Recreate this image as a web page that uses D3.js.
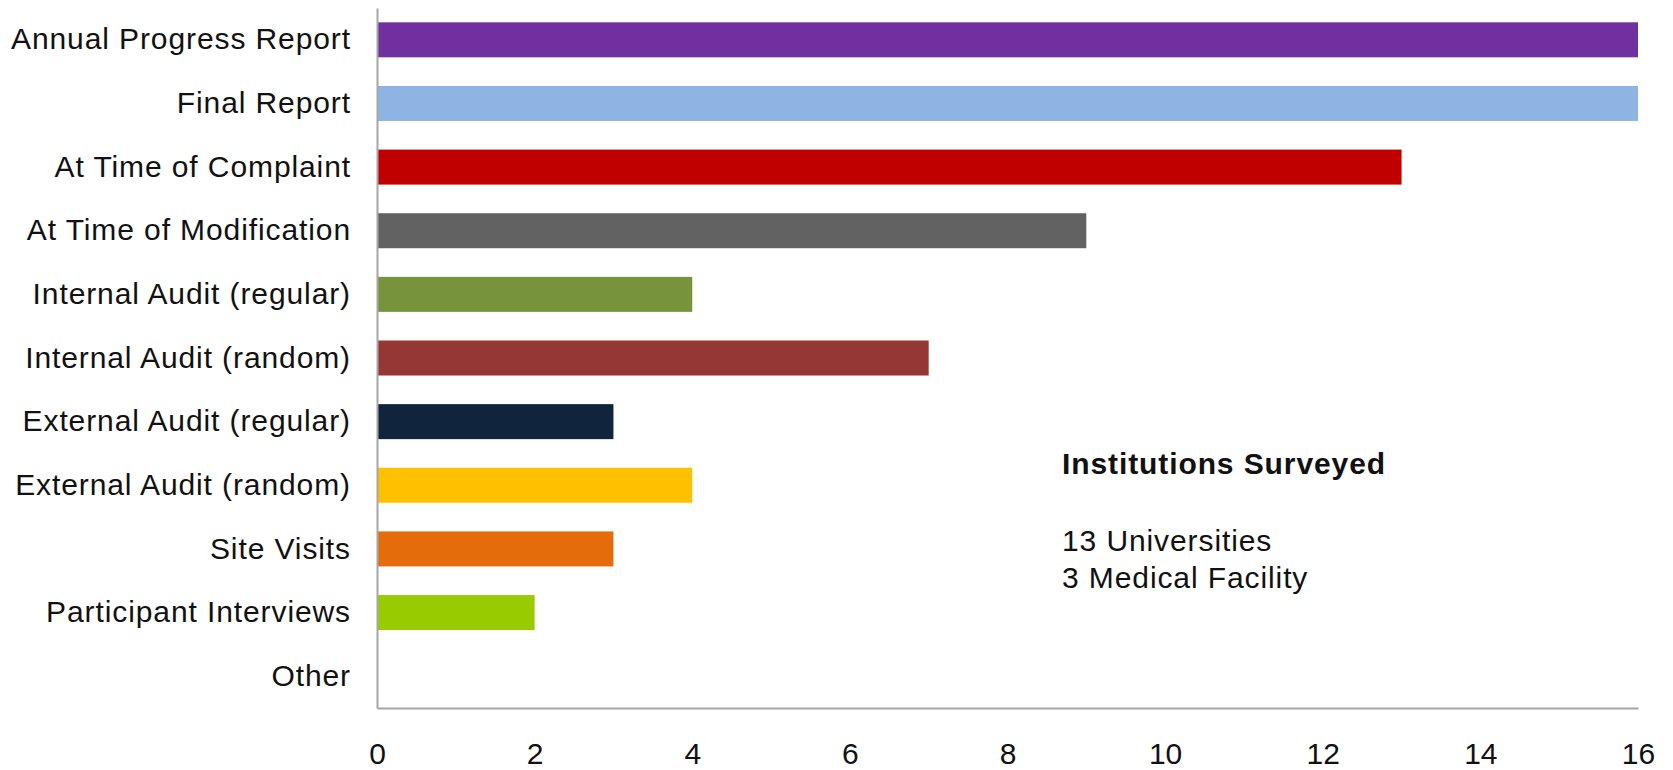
<!DOCTYPE html>
<html>
<head>
<meta charset="utf-8">
<script src="https://cdn.jsdelivr.net/npm/d3@7"></script>
<style>
  body { margin: 0; background: #fff; }
  svg { display: block; font-family: "Liberation Sans", Arial, sans-serif; }
</style>
</head>
<body>
<svg id="chart" width="1673" height="770"></svg>
<script>
// categories top to bottom, counts of institutions
const categories = [
  "Annual Progress Report", "Final Report", "At Time of Complaint",
  "At Time of Modification", "Internal Audit (regular)", "Internal Audit (random)",
  "External Audit (regular)", "External Audit (random)", "Site Visits",
  "Participant Interviews", "Other"
];
const counts = [16, 16, 13, 9, 4, 7, 3, 4, 3, 2, 0];
const barColors = [
  "#7030a0", "#8db4e2", "#c00000", "#626262", "#77933c", "#953735",
  "#10243e", "#ffc000", "#e46c0a", "#99cc00", "#999999"
];
const xTicks = [0, 2, 4, 6, 8, 10, 12, 14, 16];
const noteTitle = "Institutions Surveyed";
const noteLines = ["13 Universities", "3 Medical Facility"];

const svg = d3.select("#chart");
const margin = { top: 8, right: 35, bottom: 62, left: 377 };
const width = 1673, height = 770;
const fontSize = 30, spacing = 0.9;

const x = d3.scaleLinear().domain([0, 16]).range([margin.left, width - margin.right]);
const y = d3.scaleBand().domain(categories)
  .range([margin.top, height - margin.bottom])
  .paddingInner(0.45).paddingOuter(0.225);

// ── bars ──
svg.append("g").selectAll("rect")
  .data(categories)
  .join("rect")
  .attr("x", x(0))
  .attr("y", d => y(d))
  .attr("width", (d, i) => x(counts[i]) - x(0))
  .attr("height", y.bandwidth())
  .attr("fill", (d, i) => barColors[i]);

// ── axes ──
const xAxis = svg.append("g")
  .attr("transform", `translate(0,${height - margin.bottom})`)
  .call(d3.axisBottom(x).tickValues(xTicks).tickSize(0).tickPadding(35));
xAxis.select(".domain").attr("stroke", "#a6a6a6").attr("stroke-width", 2);
xAxis.selectAll("text").attr("font-size", fontSize).attr("fill", "#111")
  .attr("font-family", "Liberation Sans, Arial, sans-serif");

const yAxis = svg.append("g")
  .attr("transform", `translate(${margin.left},0)`)
  .call(d3.axisLeft(y).tickSize(0).tickPadding(26));
yAxis.select(".domain").attr("stroke", "#a6a6a6").attr("stroke-width", 2);
yAxis.selectAll("text").attr("font-size", fontSize).attr("fill", "#111")
  .attr("letter-spacing", spacing)
  .attr("font-family", "Liberation Sans, Arial, sans-serif");

// ── annotation ──
const note = svg.append("g").attr("fill", "#111")
  .attr("font-size", fontSize).attr("letter-spacing", spacing);
note.append("text").attr("x", 1062).attr("y", 474)
  .attr("font-weight", "bold").text(noteTitle);
noteLines.forEach((t, i) => {
  note.append("text").attr("x", 1062).attr("y", 551 + i * 37).text(t);
});
</script>
</body>
</html>
